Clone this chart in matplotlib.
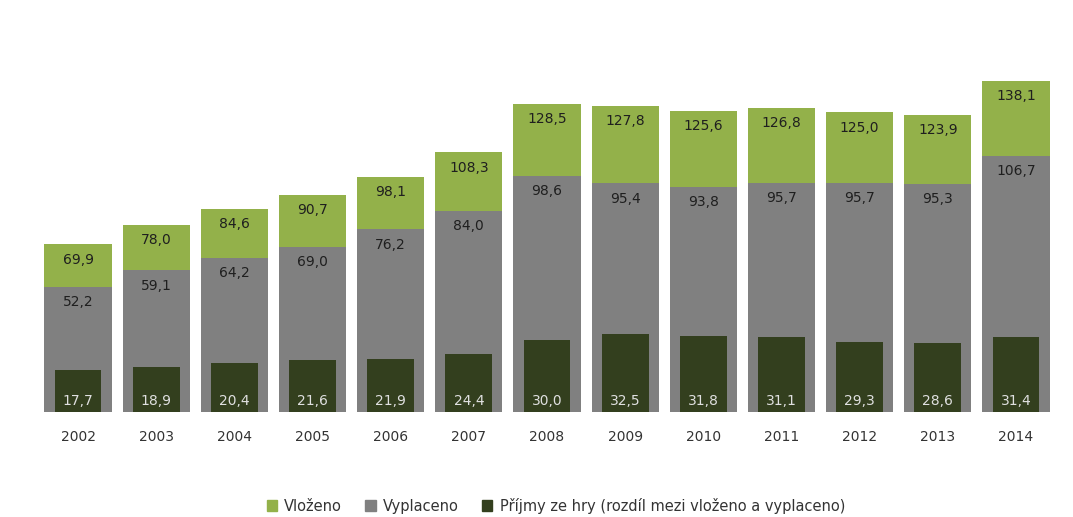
import numpy as np
import matplotlib.pyplot as plt
from matplotlib.patches import Patch

roky = ['2002', '2003', '2004', '2005', '2006', '2007', '2008',
        '2009', '2010', '2011', '2012', '2013', '2014']
vlozeno = [69.9, 78.0, 84.6, 90.7, 98.1, 108.3, 128.5, 127.8, 125.6, 126.8, 125.0, 123.9, 138.1]
vyplaceno = [52.2, 59.1, 64.2, 69.0, 76.2, 84.0, 98.6, 95.4, 93.8, 95.7, 95.7, 95.3, 106.7]
prijmy = [17.7, 18.9, 20.4, 21.6, 21.9, 24.4, 30.0, 32.5, 31.8, 31.1, 29.3, 28.6, 31.4]

c_zelena = '#93b14a'
c_seda = '#808080'
c_tmava = '#333f1e'

def fmt(v):
    return f'{v:.1f}'.replace('.', ',')

fig = plt.figure(figsize=(10.73, 5.17), dpi=100)
ax = fig.add_axes([0.0363, 0.2031, 0.947, 0.6955])

x = np.arange(len(roky))
ax.bar(x, vlozeno, width=0.86, color=c_zelena)
ax.bar(x, vyplaceno, width=0.86, color=c_seda)
ax.bar(x, prijmy, width=0.6, color=c_tmava)

# popisky hodnot
for i in range(len(roky)):
    ax.annotate(fmt(vlozeno[i]), (x[i], vlozeno[i]), xytext=(0, -11), textcoords='offset points',
                ha='center', va='center', fontsize=10, color='#1f1f1f')
    ax.annotate(fmt(vyplaceno[i]), (x[i], vyplaceno[i]), xytext=(0, -11), textcoords='offset points',
                ha='center', va='center', fontsize=10, color='#1f1f1f')
    ax.annotate(fmt(prijmy[i]), (x[i], 0), xytext=(0, 8), textcoords='offset points',
                ha='center', va='center', fontsize=10, color='#e0e0e0')

ax.set_xlim(-0.5, len(roky) - 0.5)
ax.set_ylim(0, 150)
ax.set_xticks(x)
ax.set_xticklabels(roky, fontsize=10, color='#333333')
ax.tick_params(axis='x', length=0, pad=13)
ax.set_yticks([])
for s in ax.spines.values():
    s.set_visible(False)

handles = [Patch(color=c_zelena, label='Vloženo'),
           Patch(color=c_seda, label='Vyplaceno'),
           Patch(color=c_tmava, label='Příjmy ze hry (rozdíl mezi vloženo a vyplaceno)')]
fig.legend(handles=handles, loc='center', bbox_to_anchor=(0.518, 0.022), ncol=3,
           frameon=False, fontsize=10.5, handlelength=0.7, handleheight=0.7,
           handletextpad=0.5, columnspacing=1.6, labelcolor='#333333')

fig.savefig('out.png', dpi=100)
